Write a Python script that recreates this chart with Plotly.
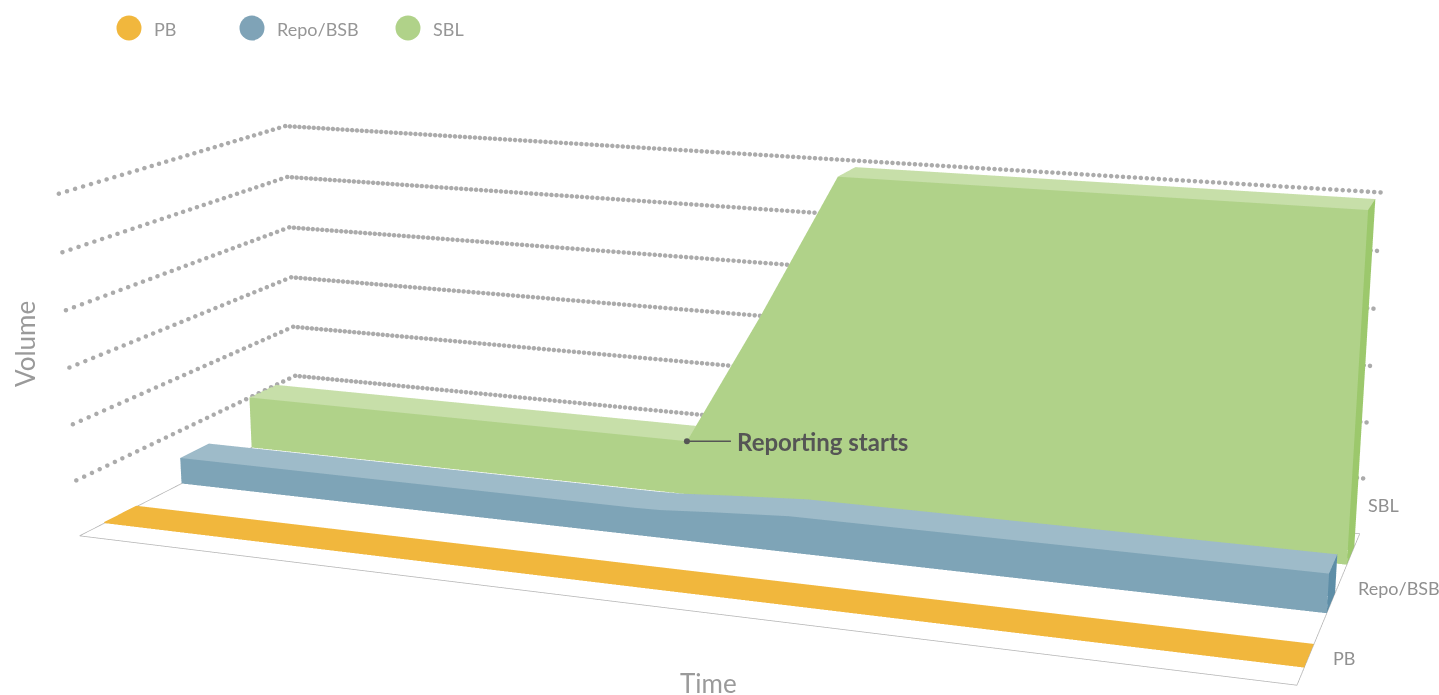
import math
import numpy as np
import plotly.graph_objects as go

# ---------------- data ----------------
time_pts = [0, 4.33, 4.56, 5.0, 5.68, 10]          # time axis positions (arbitrary units)
pb_vol = [0.02, 0.02, 0.02, 0.02, 0.02, 0.02]      # PB volume (flat, ~0)
repo_vol = [0.49, 0.49, 0.5, 0.56, 0.64, 0.66]     # Repo/BSB volume
sbl_vol = [1.0, 1.0, 1.83, 3.42, 6.02, 6.02]       # SBL volume
series = ["PB", "Repo/BSB", "SBL"]
series_depth = [0.5, 1.5, 2.5]                     # category position on depth axis
grid_levels = [1, 2, 3, 4, 5, 6]                   # volume gridlines
reporting_start = 4.33

# ---------------- styles ----------------
colors = {
    "PB": dict(front="#F1B73D", top="#F1B73D", side="#E3A92F"),
    "Repo/BSB": dict(front="#7EA4B7", top="#9EBBC9", side="#5E8EA7"),
    "SBL": dict(front="#B0D289", top="#C7DFA9", side="#9CC86C"),
}
legend_colors = {"PB": "#F1B73D", "Repo/BSB": "#7FA3B7", "SBL": "#B0D289"}
RIBBON_W = 0.4
FONT = "Lato"
W, H = 1439, 695
Z_MAX = 6.3                       # vertical axis range top (a little above the top gridline)
Z_ASPECT = 0.289 * Z_MAX / 6      # keeps 6 volume units = 0.289 scene units


def ribbon(xs, zs, yc, cols, name):
    y0, y1 = yc - RIBBON_W / 2, yc + RIBBON_W / 2
    X, Y, Z = [], [], []
    for x, z in zip(xs, zs):
        X += [x, x, x, x]
        Y += [y0, y0, y1, y1]
        Z += [0, z, z, 0]
    I, J, K, FC = [], [], [], []

    def tri(a, b, c, col):
        I.append(a); J.append(b); K.append(c); FC.append(col)

    n = len(xs)
    for k in range(n - 1):
        a, b, c, d = 4 * k, 4 * k + 1, 4 * k + 2, 4 * k + 3
        a2, b2, c2, d2 = a + 4, b + 4, c + 4, d + 4
        tri(a, a2, b2, cols["front"]); tri(a, b2, b, cols["front"])
        tri(b, b2, c2, cols["top"]); tri(b, c2, c, cols["top"])
        tri(d, d2, c2, cols["front"]); tri(d, c2, c, cols["front"])
    tri(0, 1, 2, cols["side"]); tri(0, 2, 3, cols["side"])
    e = 4 * (n - 1)
    tri(e, e + 1, e + 2, cols["side"]); tri(e, e + 2, e + 3, cols["side"])
    return go.Mesh3d(
        x=X, y=Y, z=Z, i=I, j=J, k=K, facecolor=FC, flatshading=True,
        lighting=dict(ambient=1, diffuse=0, specular=0, roughness=1, fresnel=0),
        hoverinfo="skip", name=name, showlegend=False,
    )


fig = go.Figure()

x0, x1 = time_pts[0], time_pts[-1]
depth_max = len(series)

# back-wall and left-wall dotted gridlines (drawn as rows of small dots)
gx, gy, gz = [], [], []
for lv in grid_levels:
    side = np.linspace(0, depth_max, 33)
    back = np.linspace(x0, x1, 201)
    gx += [x0] * len(side) + list(back)
    gy += list(side) + [depth_max] * len(back)
    gz += [lv] * (len(side) + len(back))
fig.add_trace(go.Scatter3d(x=gx, y=gy, z=gz, mode="markers",
                           marker=dict(color="#ababab", size=2.6, line=dict(width=0)),
                           hoverinfo="skip", showlegend=False))

# floor outline
fig.add_trace(go.Scatter3d(x=[x0, x1, x1, x0, x0], y=[0, 0, depth_max, depth_max, 0],
                           z=[0, 0, 0, 0, 0], mode="lines",
                           line=dict(color="#b4b4b4", width=1.5),
                           hoverinfo="skip", showlegend=False))

for name, vals, yc in zip(series, [pb_vol, repo_vol, sbl_vol], series_depth):
    fig.add_trace(ribbon(time_pts, vals, yc, colors[name], name))

# ---------------- camera ----------------
yaw, pitch = math.radians(20), math.radians(13.8)
fwd = (-math.sin(yaw) * math.cos(pitch), math.cos(yaw) * math.cos(pitch), -math.sin(pitch))
right = (math.cos(yaw), math.sin(yaw), 0.0)
up = (-math.sin(yaw) * math.sin(pitch), math.cos(yaw) * math.sin(pitch), math.cos(pitch))
dist = 2.15
FOCAL = 2481.0 * dist / 2.03
px = dist / FOCAL
shift_r, shift_u = -1 * px, -2 * px
look_z_data = 3.37                                   # volume level at the view centre
base_center = [0, 0, (look_z_data / Z_MAX - 0.5) * Z_ASPECT]
center = tuple(base_center[i] + shift_r * right[i] + shift_u * up[i] for i in range(3))
eye = tuple(center[i] - dist * fwd[i] for i in range(3))
FOVY = 2 * math.atan((H / 2) / FOCAL)

label_font = dict(family=FONT, size=18, color="#909090")
scene_ann = [
    dict(x=x1, y=series_depth[2], z=0.9, text="SBL", showarrow=False, xanchor="left",
         xshift=12, font=label_font),
    dict(x=x1, y=series_depth[1], z=0.25, text="Repo/BSB", showarrow=False, xanchor="left",
         xshift=24, font=label_font),
    dict(x=x1, y=series_depth[0], z=0, text="PB", showarrow=False, xanchor="left",
         xshift=22, yshift=-2, font=label_font),
    dict(x=reporting_start, y=series_depth[2] - RIBBON_W / 2, z=sbl_vol[0],
         text="<b>Reporting starts</b>", showarrow=True, arrowhead=6, arrowsize=1,
         arrowwidth=1.5, arrowcolor="#555555", ax=44, ay=0, xanchor="left", borderpad=5,
         font=dict(family=FONT, size=24, color="#555555")),
]

fig.update_layout(
    width=W, height=H,
    margin=dict(l=0, r=0, t=0, b=0),
    paper_bgcolor="white",
    showlegend=False,
    scene=dict(
        domain=dict(x=[0, 1], y=[0, 1]),
        xaxis=dict(visible=False, range=[x0, x1]),
        yaxis=dict(visible=False, range=[0, depth_max]),
        zaxis=dict(visible=False, range=[0, Z_MAX]),
        aspectmode="manual",
        aspectratio=dict(x=1, y=0.37, z=Z_ASPECT),
        camera=dict(eye=dict(x=eye[0], y=eye[1], z=eye[2]),
                    center=dict(x=center[0], y=center[1], z=center[2]),
                    up=dict(x=0, y=0, z=1),
                    projection=dict(type="perspective")),
        bgcolor="white",
        annotations=scene_ann,
        dragmode=False,
    ),
)

# legend (top-left) drawn as circles + labels
leg_x = [129, 252, 408]
for name, cx in zip(series, leg_x):
    r = 12.5
    fig.add_shape(type="circle", xref="paper", yref="paper",
                  x0=(cx - r) / W, x1=(cx + r) / W,
                  y0=1 - (28 + r) / H, y1=1 - (28 - r) / H,
                  fillcolor=legend_colors[name], line=dict(width=0))
    fig.add_annotation(x=(cx + 23) / W, y=1 - 29 / H, xref="paper", yref="paper",
                       text=name, showarrow=False, xanchor="left", yanchor="middle",
                       font=dict(family=FONT, size=18, color="#969696"))

# axis titles
fig.add_annotation(x=25 / W, y=1 - 344 / H, xref="paper", yref="paper", text="Volume",
                   textangle=-90, showarrow=False, xanchor="center", yanchor="middle",
                   font=dict(family=FONT, size=26, color="#9a9a9a"))
fig.add_annotation(x=708 / W, y=1 - 683 / H, xref="paper", yref="paper", text="Time",
                   showarrow=False, xanchor="center", yanchor="middle",
                   font=dict(family=FONT, size=26, color="#9a9a9a"))

post = """
(function(){
  var gd = document.getElementById('{plot_id}');
  function apply(){
    try {
      var sc = gd._fullLayout.scene._scene;
      if (sc && sc.glplot) { sc.glplot.fovy = %f; if (sc.glplot.redraw) sc.glplot.redraw(); }
    } catch(e) {}
  }
  apply();
  setTimeout(apply, 30);
  setTimeout(apply, 200);
})();
""" % FOVY

fig.write_html("out.html", post_script=post, config={"displayModeBar": False})
